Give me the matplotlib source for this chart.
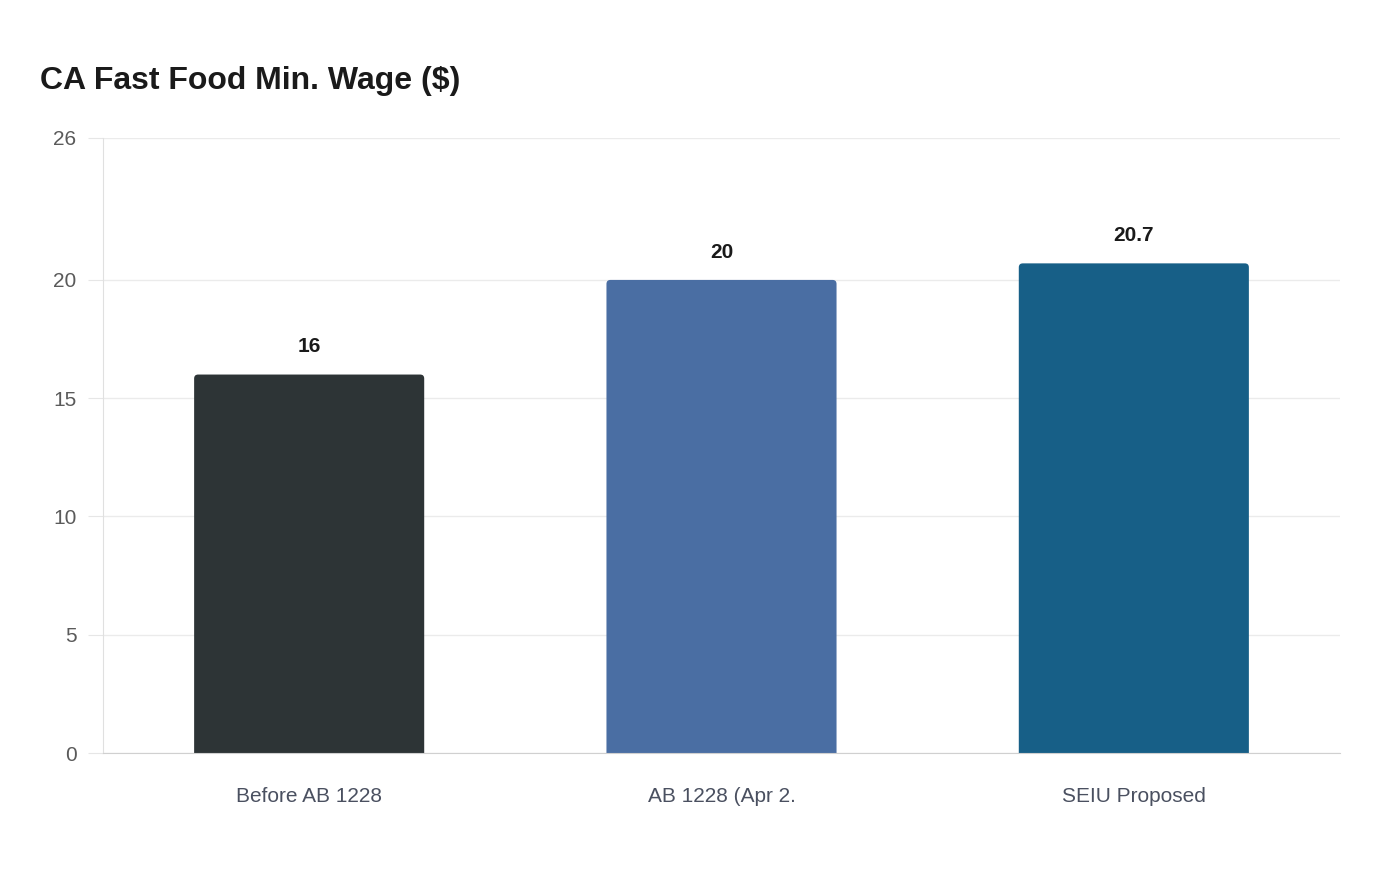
import matplotlib
matplotlib.use("Agg")
import matplotlib.pyplot as plt
from matplotlib.patches import FancyBboxPatch

categories = ["Before AB 1228", "AB 1228 (Apr 2.", "SEIU Proposed"]
values = [16, 20, 20.7]
labels = ["16", "20", "20.7"]
colors = ["#2d3436", "#4a6ea3", "#175f87"]
yticks = [0, 5, 10, 15, 20, 26]

plt.rcParams['font.family'] = ['Liberation Sans', 'DejaVu Sans']

fig = plt.figure(figsize=(14, 8.8), dpi=100)
ax = fig.add_axes([103/1400, 1-753/880, (1340-103)/1400, (753-138)/880])

width = 0.558
ax.set_xlim(-0.5, 2.5)
ax.set_ylim(0, 26)

bars = ax.bar(range(len(categories)), values, width=width, color=colors)
# replace with rounded-top bars
px_x = (1340-103)/3.0
px_y = (753-138)/26.0
r = 4.0 / px_x
aspect = px_x / px_y
for b in list(bars):
    x0, w, h = b.get_x(), b.get_width(), b.get_height()
    fc = b.get_facecolor()
    b.set_visible(False)
    p = FancyBboxPatch((x0, -2), w, h + 2,
                       boxstyle=f"round,pad=0,rounding_size={r}",
                       mutation_aspect=aspect, facecolor=fc, edgecolor='none',
                       zorder=2)
    ax.add_patch(p)

for i, (v, t) in enumerate(zip(values, labels)):
    ax.annotate(t, (i, v), xytext=(0, 13), textcoords='offset points',
                ha='center', va='bottom', fontsize=15, fontweight='bold',
                color='#1a1a1a')

ax.set_yticks(yticks)
ax.set_yticklabels([str(t) for t in yticks])
ax.set_xticks(range(len(categories)))
ax.set_xticklabels(categories)
ax.tick_params(axis='y', length=11, color='#e6e6e6', pad=8, labelsize=15,
               labelcolor='#5a5a5a')
ax.tick_params(axis='x', length=0, pad=24.5, labelsize=15, labelcolor='#4a5060')
ax.grid(axis='y', color='#ebebeb', linewidth=1)
ax.set_axisbelow(True)
for s in ['top', 'right']:
    ax.spines[s].set_visible(False)
ax.spines['left'].set_color('#e0e0e0')
ax.spines['bottom'].set_color('#d0d0d0')

fig.text(40/1400, 1-81/880, "CA Fast Food Min. Wage ($)", fontsize=23,
         fontweight='bold', color='#1a1a1a', ha='left', va='center')

fig.savefig("out.png", dpi=100)
